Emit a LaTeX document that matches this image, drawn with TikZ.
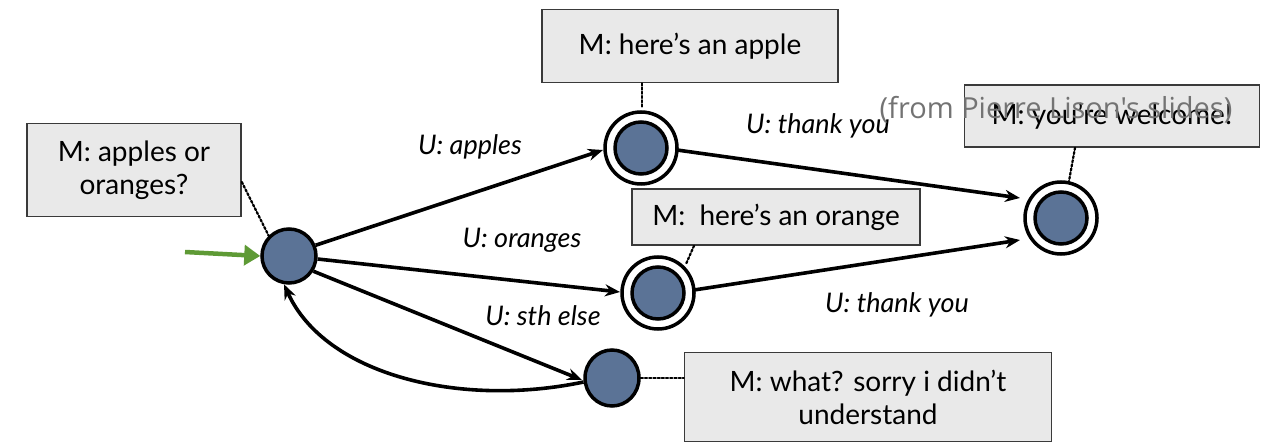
\documentclass[tikz,border=0pt]{standalone}
\usepackage{fontspec}
\setmainfont{Lato}
\newfontfamily\notefont{Open Sans}
\usetikzlibrary{arrows.meta,shapes.geometric}
\definecolor{stfill}{HTML}{5B7396}
\definecolor{boxfill}{HTML}{E9E9E9}
\definecolor{boxline}{HTML}{3A3A3A}
\definecolor{startgreen}{HTML}{5E9A35}
\tikzset{
  x=1pt, y=-1pt,
  state/.style={circle, draw=black, line width=3.5pt, fill=stfill, minimum size=54pt, inner sep=0pt},
  ring/.style={line width=3.5pt, draw=black},
  msg/.style={draw=boxline, line width=1.6pt, fill=boxfill, inner sep=0pt, align=center, font=\fontsize{28}{33}\selectfont},
  edge/.style={line width=3.6pt, -{Stealth[length=15pt,width=12pt]}},
  lab/.style={font=\fontsize{27}{30}\selectfont\itshape},
  dots/.style={line width=2.2pt, dotted, line cap=round},
}
\begin{document}
\begin{tikzpicture}
\useasboundingbox (0,0) rectangle (1265,443);
% message boxes
\node[msg, minimum width=214pt, minimum height=93pt] (m0) at (134,170) {M: apples or\\oranges?};
\node[msg, minimum width=296pt, minimum height=73pt] (m1) at (690,46) {M: here's an apple};
\node[msg, minimum width=288pt, minimum height=56pt] (m2) at (776,217) {M:\ \ here's an orange};
\node[msg, minimum width=295pt, minimum height=62pt] (m3) at (1112,116) {M: you're welcome!};
\node[msg, minimum width=367pt, minimum height=89pt] (m4) at (868,397) {M: what? sorry i didn't\\understand};
% states
\node[state] (s0) at (289,256) {};
\node[state, minimum size=52pt] (s1) at (641,148) {};
\node[state, minimum size=52pt] (s2) at (658,293) {};
\node[state, minimum size=52pt] (s3) at (1061,218) {};
\node[state, ellipse, minimum width=54pt, minimum height=56pt] (s4) at (612,378) {};
\draw[ring] (s1.center) circle (36);
\draw[ring] (s2.center) circle (36);
\draw[ring] (s3.center) circle (36);
% start arrow
\coordinate (st) at (185,252);
\draw[line width=4.5pt, startgreen, -{Triangle[length=16pt,width=20pt]}] (st) -- (s0.west);
% dotted connectors
\draw[dots] (m0.east |- 0,182) -- (s0.north west);
\draw[dots] (m1.south -| 642,0) -- (642,108);
\draw[dots] (m2.south -| 694,0) -- (686,264);
\draw[dots] (m3.south -| 1075,0) -- (1069,181);
\draw[dots] (s4.east) -- (m4.west |- s4.east);
% transitions
\draw[edge] (s0.22) -- (603,150);
\draw[edge] (s0.-6) -- (620,292);
\draw[edge] (s0.-32) -- (582,380);
\draw[edge] (s4.188) .. controls (460,408) and (325,375) .. (s0.-100);
\draw[edge] (677,150) -- (1020,198);
\draw[edge] (694,290) -- (1020,240);
% edge labels
\node[lab] (l1) at (470,147) {U: apples};
\node[lab] (l2) at (522,240) {U: oranges};
\node[lab] (l3) at (543,316) {U: sth else};
\node[lab] (l4) at (818,126) {U: thank you};
\node[lab] (l5) at (897,305) {U: thank you};
% source note
\node[font=\notefont\fontsize{29}{33}\selectfont, text=black!55] (src) at (1056,110) {(from Pierre Lison's slides)};
\end{tikzpicture}
\end{document}
